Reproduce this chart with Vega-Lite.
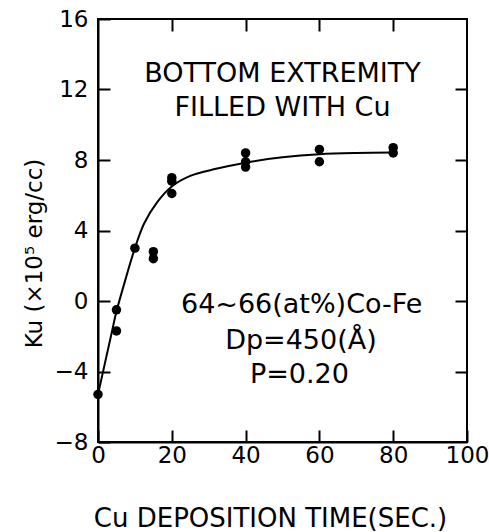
{
  "$schema": "https://vega.github.io/schema/vega-lite/v6.json",
  "width": 369,
  "height": 423,
  "autosize": "none",
  "padding": {"left": 98, "top": 19, "right": 22, "bottom": 90},
  "background": "white",
  "config": {
    "view": {"stroke": "black", "strokeWidth": 2},
    "font": "DejaVu Sans",
    "axis": {
      "grid": false,
      "domainColor": "black",
      "domainWidth": 2,
      "tickColor": "black",
      "tickWidth": 2,
      "tickSize": -12,
      "labelColor": "black",
      "titleColor": "black",
      "labelFont": "DejaVu Sans",
      "titleFont": "DejaVu Sans",
      "labelFontSize": 23,
      "titleFontSize": 26,
      "titleFontWeight": "normal"
    }
  },
  "datasets": {
    "pts": [
      {"t": 0, "ku": -5.3},
      {"t": 5, "ku": -0.5},
      {"t": 5, "ku": -1.7},
      {"t": 10, "ku": 3.0},
      {"t": 15, "ku": 2.8},
      {"t": 15, "ku": 2.4},
      {"t": 20, "ku": 7.0},
      {"t": 20, "ku": 6.8},
      {"t": 20, "ku": 6.1},
      {"t": 40, "ku": 8.4},
      {"t": 40, "ku": 7.9},
      {"t": 40, "ku": 7.6},
      {"t": 60, "ku": 8.6},
      {"t": 60, "ku": 7.9},
      {"t": 80, "ku": 8.7},
      {"t": 80, "ku": 8.4}
    ],
    "curve": [
      {"t": 0, "ku": -5.3},
      {"t": 3.5, "ku": -2.0},
      {"t": 5, "ku": -0.6},
      {"t": 7, "ku": 0.9},
      {"t": 10, "ku": 3.0},
      {"t": 12.5, "ku": 4.4},
      {"t": 16, "ku": 5.6},
      {"t": 20, "ku": 6.5},
      {"t": 25, "ku": 7.1},
      {"t": 32, "ku": 7.5},
      {"t": 40, "ku": 7.85},
      {"t": 50, "ku": 8.15},
      {"t": 60, "ku": 8.33},
      {"t": 70, "ku": 8.4},
      {"t": 80, "ku": 8.42}
    ],
    "notes": [
      {"t": 50, "ku": 12.9, "label": "BOTTOM EXTREMITY"},
      {"t": 50, "ku": 10.95, "label": "FILLED WITH Cu"},
      {"t": 55.2, "ku": -0.2, "label": "64~66(at%)Co-Fe"},
      {"t": 55, "ku": -2.25, "label": "Dp=450(Å)"},
      {"t": 54.6, "ku": -4.2, "label": "P=0.20"}
    ]
  },
  "resolve": {"axis": {"x": "independent", "y": "independent"}},
  "layer": [
    {
      "data": {"name": "curve"},
      "mark": {"type": "line", "color": "black", "strokeWidth": 2, "interpolate": "catmull-rom", "clip": true},
      "encoding": {
        "x": {"field": "t", "type": "quantitative", "scale": {"domain": [0, 100], "nice": false},
          "axis": {"title": "Cu DEPOSITION TIME(SEC.)", "titleX": 172, "values": [0, 20, 40, 60, 80, 100], "labelPadding": 14, "titlePadding": 38, "labelFlush": false}},
        "y": {"field": "ku", "type": "quantitative", "scale": {"domain": [-8, 16], "nice": false, "zero": false},
          "axis": {"title": "Ku (×10⁵ erg/cc)", "titleFontSize": 23, "titleY": 234, "values": [-8, -4, 0, 4, 8, 12, 16], "labelPadding": 22, "titlePadding": 8, "labelFlush": false}}
      }
    },
    {
      "data": {"name": "pts"},
      "mark": {"type": "circle", "color": "black", "opacity": 1, "size": 90, "clip": false},
      "encoding": {
        "x": {"field": "t", "type": "quantitative", "scale": {"domain": [0, 100], "nice": false},
          "axis": {"orient": "top", "labels": false, "title": null, "values": [20, 40, 60, 80], "domain": false}},
        "y": {"field": "ku", "type": "quantitative", "scale": {"domain": [-8, 16], "nice": false, "zero": false},
          "axis": {"orient": "right", "labels": false, "title": null, "values": [-4, 0, 4, 8, 12], "domain": false}}
      }
    },
    {
      "data": {"name": "notes"},
      "mark": {"type": "text", "color": "black", "fontSize": 27, "font": "DejaVu Sans", "align": "center", "baseline": "middle"},
      "encoding": {
        "x": {"field": "t", "type": "quantitative", "axis": null},
        "y": {"field": "ku", "type": "quantitative", "axis": null},
        "text": {"field": "label"}
      }
    }
  ]
}
